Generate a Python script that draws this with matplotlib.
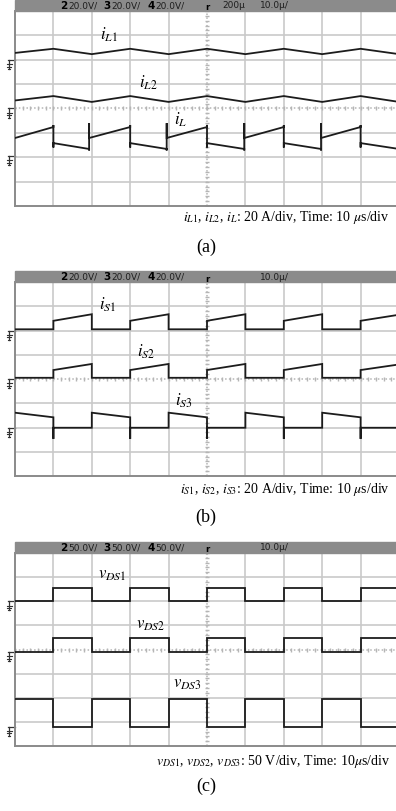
# scope captures: inductor currents, switch currents, drain-source voltages

import matplotlib.pyplot as plt
from matplotlib.patches import Rectangle

plt.rcParams['font.family'] = 'serif'
plt.rcParams['font.serif'] = ['Liberation Serif', 'DejaVu Serif']
plt.rcParams['mathtext.fontset'] = 'stix'

W, H = 396, 811

# x in time divisions (10 us/div), y in screen divisions from bottom
# (a)
t_tri = [0, 1, 2, 3, 4, 5, 6, 7, 8, 9, 10]
i_L1 = [6.28, 6.45, 6.23, 6.45, 6.23, 6.45, 6.23, 6.45, 6.23, 6.45, 6.23]
i_L2 = [4.33, 4.51, 4.27, 4.51, 4.27, 4.51, 4.27, 4.51, 4.27, 4.51, 4.27]
t_iL = [0, 1, 1, 1, 1, 1.93, 1.93, 1.93, 1.93,
        3, 3, 3, 3, 3.95, 3.95, 3.95, 3.95,
        5, 5, 5, 5, 5.97, 5.97, 5.97, 5.97,
        7, 7, 7, 7, 7.97, 7.97, 7.97, 7.97,
        9, 9, 9, 9, 10]
i_L = [2.79, 3.24, 3.32, 2.40, 2.58, 2.34, 2.28, 3.40, 2.79,
       3.24, 3.32, 2.40, 2.58, 2.34, 2.28, 3.40, 2.79,
       3.24, 3.32, 2.40, 2.58, 2.34, 2.28, 3.40, 2.79,
       3.24, 3.32, 2.40, 2.58, 2.34, 2.28, 3.40, 2.79,
       3.24, 3.32, 2.40, 2.58, 2.34]

# (b)
t_sq = [0, 1, 1, 2, 2, 3, 3, 4, 4, 5, 5, 6, 6, 7, 7, 8, 8, 9, 9, 10]
i_S1 = [6.05, 6.05, 6.40, 6.67, 6.05, 6.05, 6.40, 6.67, 6.05, 6.05,
        6.40, 6.67, 6.05, 6.05, 6.40, 6.67, 6.05, 6.05, 6.40, 6.65]
i_S2 = [4.05, 4.05, 4.37, 4.62, 4.05, 4.05, 4.37, 4.62, 4.05, 4.05,
        4.37, 4.62, 4.05, 4.05, 4.37, 4.62, 4.05, 4.05, 4.37, 4.60]
t_s3 = [0, 1, 1, 1, 2, 2, 3, 3, 3, 4, 4, 5, 5, 5, 6, 6, 7, 7, 7, 8, 8, 9, 9, 9, 10]
i_S3 = [2.61, 2.42, 1.53, 1.99, 1.99, 2.61, 2.42, 1.53, 1.99, 1.99,
        2.61, 2.42, 1.53, 1.99, 1.99, 2.61, 2.42, 1.53, 1.99, 1.99,
        2.61, 2.42, 1.53, 1.99, 1.99]

# (c)
v_DS1 = [6.01, 6.01, 6.54, 6.54, 6.01, 6.01, 6.54, 6.54, 6.01, 6.01,
         6.54, 6.54, 6.01, 6.01, 6.54, 6.54, 6.01, 6.01, 6.54, 6.54]
v_DS2 = [3.91, 3.91, 4.49, 4.49, 3.91, 3.91, 4.49, 4.49, 3.91, 3.91,
         4.49, 4.49, 3.91, 3.91, 4.49, 4.49, 3.91, 3.91, 4.49, 4.49]
v_DS3 = [1.95, 1.95, 0.80, 0.80, 1.95, 1.95, 0.80, 0.80, 1.95, 1.95,
         0.80, 0.80, 1.95, 1.95, 0.80, 0.80, 1.95, 1.95, 0.80, 0.80]

grounds_a = [6.0, 4.0, 2.05]
grounds_b = [6.0, 4.0, 2.0]
grounds_c = [6.0, 3.9, 0.8]

labels_a = [r'$i_{L1}$', r'$i_{L2}$', r'$i_{L}$']
labels_b = [r'$i_{S1}$', r'$i_{S2}$', r'$i_{S3}$']
labels_c = [r'$v_{DS1}$', r'$v_{DS2}$', r'$v_{DS3}$']
label_pos_a = [(2.45, 7.02), (3.46, 5.05), (4.32, 3.53)]
label_pos_b = [(2.42, 7.05), (3.41, 5.11), (4.40, 3.09)]
label_pos_c = [(2.53, 7.09), (3.52, 5.02), (4.50, 2.57)]

captions = [r'$i_{L1}$, $i_{L2}$, $i_{L}$: 20 A/div, Time: 10 $\mu$s/div',
            r'$i_{S1}$, $i_{S2}$, $i_{S3}$: 20 A/div, Time: 10 $\mu$s/div',
            r'$v_{DS1}$, $v_{DS2}$, $v_{DS3}$: 50 V/div, Time: 10$\mu$s/div']
volts = ['20.0V/', '20.0V/', '50.0V/']

GRID = '#c9c9c9'
TRACE = '#1c1c1c'


def fx(x):
    return x / W


def fy(y):
    return 1 - y / H


def header(fig, top, volt, extra):
    fig.patches.append(Rectangle((fx(15), fy(top + 11)), fx(381), 11 / H,
                                 transform=fig.transFigure, color='#8b8b8b', zorder=0))
    yc = fy(top + 6)
    for x, ch in [(60, '2'), (103, '3'), (147, '4')]:
        fig.text(fx(x), yc, ch, fontsize=7.5, fontweight='bold', family='DejaVu Sans',
                 va='center', color='black')
        fig.text(fx(x + 8), yc, volt, fontsize=6.5, family='DejaVu Sans',
                 va='center', color='#1e1e1e')
    fig.text(fx(205), fy(top + 8), 'r', fontsize=6, fontweight='bold',
             family='DejaVu Sans', va='center', color='black')
    if extra:
        fig.text(fx(222), yc, '200μ', fontsize=6.5, family='DejaVu Sans',
                 va='center', color='#1e1e1e')
    fig.text(fx(260), yc, '10.0μ/', fontsize=6.5, family='DejaVu Sans',
             va='center', color='#1e1e1e')


def scope(fig, top, bottom, traces, grounds, labels, label_pos):
    ax = fig.add_axes([fx(15), fy(bottom), 384 / W, (bottom - top) / H])
    ax.set_xlim(0, 10)
    ax.set_ylim(0, 8)
    for k in range(1, 10):
        if k != 5:
            ax.axvline(k, color=GRID, lw=1.2, zorder=1)
    for k in range(1, 8):
        if k != 4:
            ax.axhline(k, color=GRID, lw=1.2, zorder=1)
    ax.axvline(5, color='#b5b5b5', lw=1.1, ls=(0, (1, 1.5)), zorder=1)
    ax.axhline(4, color='#b5b5b5', lw=1.1, ls=(0, (1, 1.5)), zorder=1)
    minor = [k * 0.2 for k in range(51)]
    ax.plot(minor, [4] * len(minor), ls='none', marker='|', ms=3, color='#b5b5b5', zorder=1)
    ax.plot([5] * 41, [k * 0.2 for k in range(41)], ls='none', marker='_', ms=3,
            color='#b5b5b5', zorder=1)
    for s in ['top', 'right']:
        ax.spines[s].set_visible(False)
    for s in ['left', 'bottom']:
        ax.spines[s].set_color('#8a8a8a')
        ax.spines[s].set_linewidth(1.4)
    ax.set_xticks([])
    ax.set_yticks([])
    for t, y in traces:
        ax.plot(t, y, color=TRACE, lw=1.3, zorder=3, solid_joinstyle='miter')
    for g in grounds:
        ax.plot([-0.17, 0], [g, g], color='#333', lw=0.9, clip_on=False)
        ax.plot([-0.15, -0.15], [g, g - 0.38], color='#333', lw=0.9, clip_on=False)
        for dy, w in [(0.18, 0.07), (0.28, 0.05), (0.38, 0.03)]:
            ax.plot([-0.15 - w, -0.15 + w], [g - dy, g - dy], color='#333', lw=0.8,
                    clip_on=False)
    for lab, (x, y) in zip(labels, label_pos):
        ax.text(x, y, lab, fontsize=12, ha='center', va='center', zorder=4)
    return ax


fig = plt.figure(figsize=(W / 100, H / 100), dpi=100)

header(fig, 0, volts[0], True)
scope(fig, 11, 206, [(t_tri, i_L1), (t_tri, i_L2), (t_iL, i_L)],
      grounds_a, labels_a, label_pos_a)

header(fig, 271, volts[1], False)
scope(fig, 282, 476, [(t_sq, i_S1), (t_sq, i_S2), (t_s3, i_S3)],
      grounds_b, labels_b, label_pos_b)

header(fig, 542, volts[2], False)
scope(fig, 553, 746, [(t_sq, v_DS1), (t_sq, v_DS2), (t_sq, v_DS3)],
      grounds_c, labels_c, label_pos_c)

for cap, yc, yl, letter in zip(captions, [218, 489, 761], [247, 517, 786],
                               ['(a)', '(b)', '(c)']):
    fig.text(fx(390), fy(yc), cap, fontsize=10, ha='right', va='center')
    fig.text(fx(206), fy(yl), letter, fontsize=13, ha='center', va='center')

fig.savefig('out.png', dpi=100)
print("Done")
